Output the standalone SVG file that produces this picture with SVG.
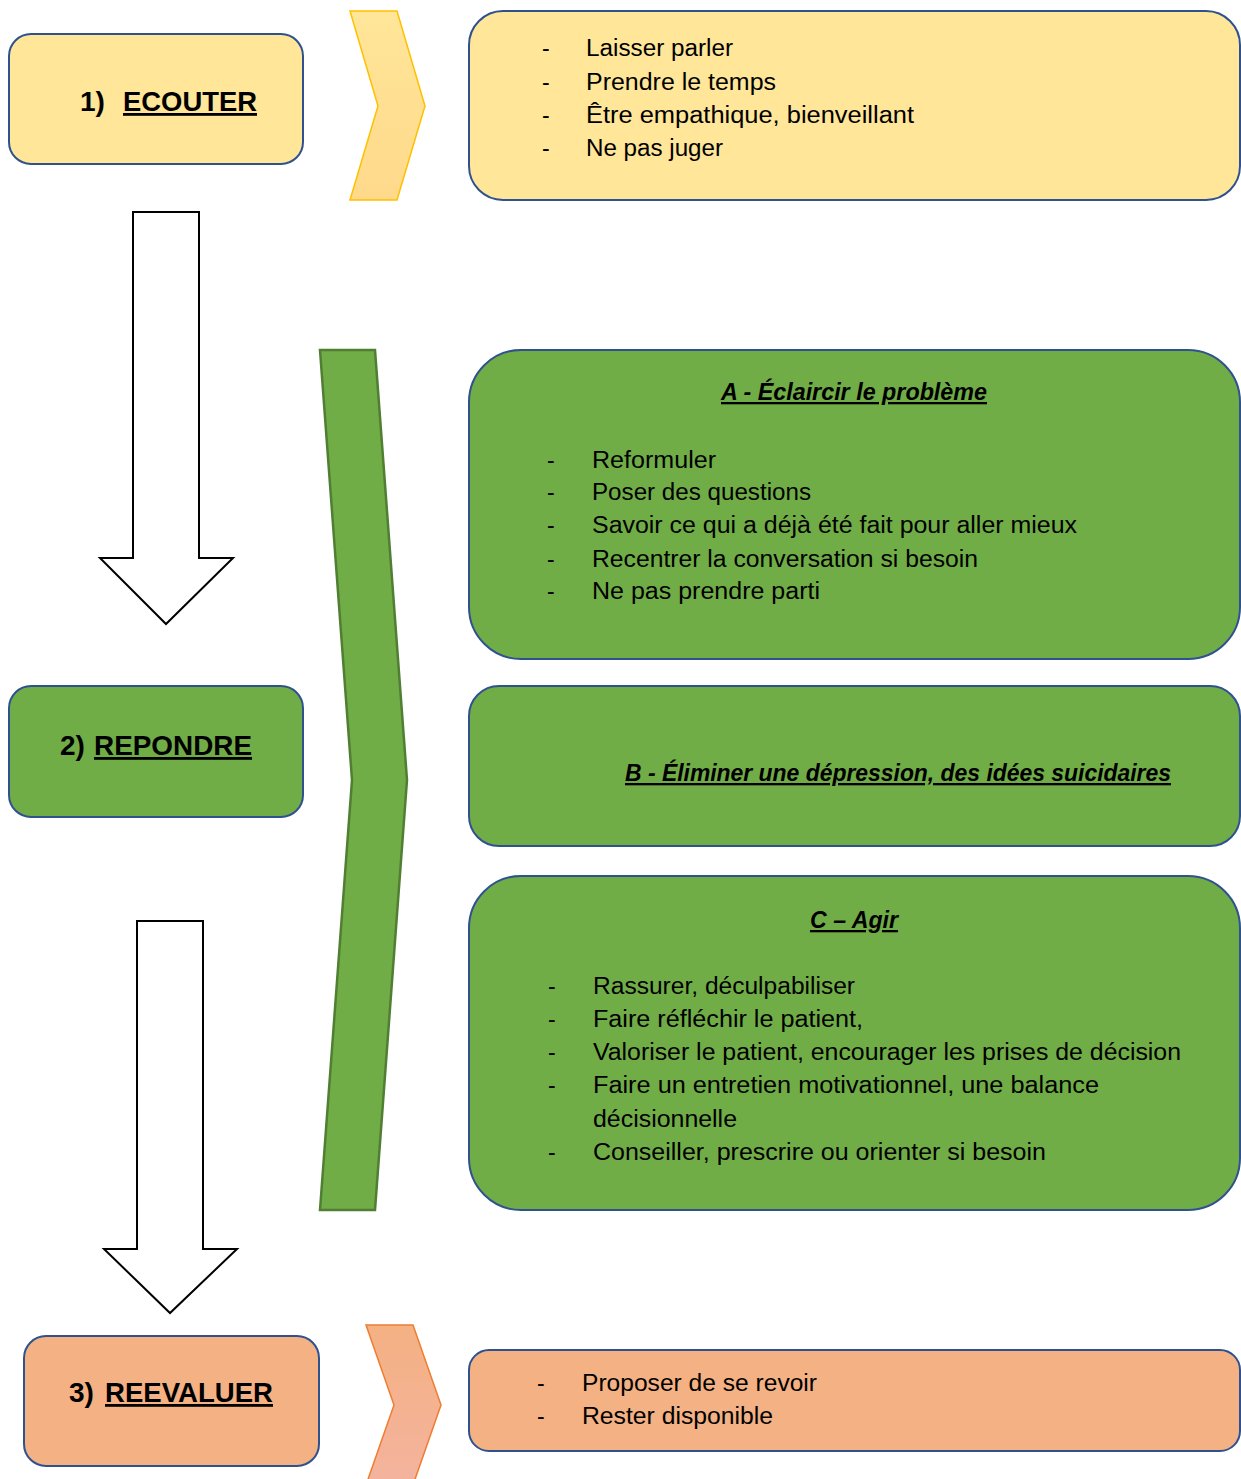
<svg xmlns="http://www.w3.org/2000/svg" width="1241" height="1479" viewBox="0 0 1241 1479">
  <style>
    .t { font-family: "Liberation Sans", Arial, sans-serif; font-size: 23px; fill: #000; }
    .h { font-family: "Liberation Sans", Arial, sans-serif; font-size: 28px; font-weight: bold; fill: #000; }
    .st { font-family: "Liberation Sans", Arial, sans-serif; font-size: 23px; font-weight: bold; font-style: italic; fill: #000; text-decoration: underline; }
    .u { text-decoration: underline; }
    .box { stroke: #2F528F; stroke-width: 2; }
    .yel { fill: #FFE699; }
    .grn { fill: #70AD47; }
    .org { fill: #F4B183; }
    .wa { fill: #FFFFFF; stroke: #000; stroke-width: 2; stroke-linejoin: miter; }
  </style>
  <defs>
    <linearGradient id="gy" x1="0" y1="0" x2="0" y2="1">
      <stop offset="0" stop-color="#FFE699"/>
      <stop offset="1" stop-color="#FFD98B"/>
    </linearGradient>
    <linearGradient id="go" x1="0" y1="0" x2="0" y2="1">
      <stop offset="0" stop-color="#F4B183"/>
      <stop offset="1" stop-color="#F4B39E"/>
    </linearGradient>
  </defs>
  <rect width="1241" height="1479" fill="#FFFFFF"/>

  <g id="connectors">
    <polygon points="350,11 397,11 425,106 397,200 350,200 378,106" fill="url(#gy)" stroke="#FFC000" stroke-width="1.5"/>
    <polygon points="320,350 375,350 407,780 375,1210 320,1210 352,780" fill="#70AD47" stroke="#507E32" stroke-width="2.5"/>
    <polygon points="366,1325 413,1325 441,1405 413,1485 366,1485 394,1405" fill="url(#go)" stroke="#ED7D31" stroke-width="1.5"/>
    <polygon class="wa" points="133,212 199,212 199,558 233,558 166,624 100,558 133,558"/>
    <polygon class="wa" points="137,921 203,921 203,1249 237,1249 170,1313 104,1249 137,1249"/>
  </g>

  <g id="node-ecouter">
    <rect class="box yel" x="9" y="34" width="294" height="130" rx="22"/>
    <text class="h" x="80" y="111">1)</text>
    <text class="h u" x="123" y="111" textLength="134" lengthAdjust="spacingAndGlyphs">ECOUTER</text>
  </g>

  <g id="box-ecouter">
    <rect class="box yel" x="469" y="11" width="771" height="189" rx="34"/>
    <text class="t" x="542" y="56">-</text>
    <text class="t" x="586" y="56" textLength="147" lengthAdjust="spacingAndGlyphs">Laisser parler</text>
    <text class="t" x="542" y="90">-</text>
    <text class="t" x="586" y="90" textLength="190" lengthAdjust="spacingAndGlyphs">Prendre le temps</text>
    <text class="t" x="542" y="123">-</text>
    <text class="t" x="586" y="123" textLength="328" lengthAdjust="spacingAndGlyphs">Être empathique, bienveillant</text>
    <text class="t" x="542" y="156">-</text>
    <text class="t" x="586" y="156" textLength="137" lengthAdjust="spacingAndGlyphs">Ne pas juger</text>
  </g>

  <g id="node-repondre">
    <rect class="box grn" x="9" y="686" width="294" height="131" rx="22"/>
    <text class="h" x="60" y="755">2)</text>
    <text class="h u" x="94" y="755" textLength="158" lengthAdjust="spacingAndGlyphs">REPONDRE</text>
  </g>

  <g id="box-a">
    <rect class="box grn" x="469" y="350" width="771" height="309" rx="52"/>
    <text class="st" x="721" y="400" textLength="266" lengthAdjust="spacingAndGlyphs">A - Éclaircir le problème</text>
    <text class="t" x="547" y="468">-</text>
    <text class="t" x="592" y="468" textLength="124" lengthAdjust="spacingAndGlyphs">Reformuler</text>
    <text class="t" x="547" y="500">-</text>
    <text class="t" x="592" y="500" textLength="219" lengthAdjust="spacingAndGlyphs">Poser des questions</text>
    <text class="t" x="547" y="533">-</text>
    <text class="t" x="592" y="533" textLength="485" lengthAdjust="spacingAndGlyphs">Savoir ce qui a déjà été fait pour aller mieux</text>
    <text class="t" x="547" y="567">-</text>
    <text class="t" x="592" y="567" textLength="386" lengthAdjust="spacingAndGlyphs">Recentrer la conversation si besoin</text>
    <text class="t" x="547" y="599">-</text>
    <text class="t" x="592" y="599" textLength="228" lengthAdjust="spacingAndGlyphs">Ne pas prendre parti</text>
  </g>

  <g id="box-b">
    <rect class="box grn" x="469" y="686" width="771" height="160" rx="30"/>
    <text class="st" x="625" y="781" textLength="546" lengthAdjust="spacingAndGlyphs">B - Éliminer une dépression, des idées suicidaires</text>
  </g>

  <g id="box-c">
    <rect class="box grn" x="469" y="876" width="771" height="334" rx="52"/>
    <text class="st" x="810" y="928" textLength="88" lengthAdjust="spacingAndGlyphs">C – Agir</text>
    <text class="t" x="548" y="994">-</text>
    <text class="t" x="593" y="994" textLength="262" lengthAdjust="spacingAndGlyphs">Rassurer, déculpabiliser</text>
    <text class="t" x="548" y="1027">-</text>
    <text class="t" x="593" y="1027" textLength="270" lengthAdjust="spacingAndGlyphs">Faire réfléchir le patient,</text>
    <text class="t" x="548" y="1060">-</text>
    <text class="t" x="593" y="1060" textLength="588" lengthAdjust="spacingAndGlyphs">Valoriser le patient, encourager les prises de décision</text>
    <text class="t" x="548" y="1093">-</text>
    <text class="t" x="593" y="1093" textLength="506" lengthAdjust="spacingAndGlyphs">Faire un entretien motivationnel, une balance</text>
    <text class="t" x="593" y="1127" textLength="144" lengthAdjust="spacingAndGlyphs">décisionnelle</text>
    <text class="t" x="548" y="1160">-</text>
    <text class="t" x="593" y="1160" textLength="453" lengthAdjust="spacingAndGlyphs">Conseiller, prescrire ou orienter si besoin</text>
  </g>

  <g id="node-reevaluer">
    <rect class="box org" x="24" y="1336" width="295" height="130" rx="22"/>
    <text class="h" x="69" y="1402">3)</text>
    <text class="h u" x="105" y="1402" textLength="168" lengthAdjust="spacingAndGlyphs">REEVALUER</text>
  </g>

  <g id="box-reevaluer">
    <rect class="box org" x="469" y="1350" width="771" height="101" rx="20"/>
    <text class="t" x="537" y="1391">-</text>
    <text class="t" x="582" y="1391" textLength="235" lengthAdjust="spacingAndGlyphs">Proposer de se revoir</text>
    <text class="t" x="537" y="1424">-</text>
    <text class="t" x="582" y="1424" textLength="191" lengthAdjust="spacingAndGlyphs">Rester disponible</text>
  </g>
</svg>
